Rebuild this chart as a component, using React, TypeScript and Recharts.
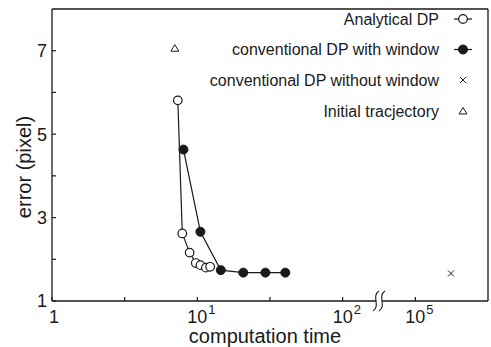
import { ScatterChart, Scatter, XAxis, YAxis, ReferenceLine, Legend, Label } from 'recharts';

// computation time (log axis with a break between 10^2 and 10^5) vs error in pixels
const analyticalTime = [7.34, 7.88, 8.85, 9.76, 10.5, 11.45, 12.25];
const analyticalError = [5.81, 2.62, 2.16, 1.91, 1.86, 1.8, 1.82];
const windowTime = [8.03, 10.5, 14.5, 20.7, 29.4, 40.3];
const windowError = [4.63, 2.66, 1.74, 1.68, 1.68, 1.68];
const noWindowTime = [176000];
const noWindowError = [1.66];
const initialTime = [7.0];
const initialError = [7.06];

const xMajorExponents = [0, 1, 2, 5];
const xMinorExponents = [0.5, 1.5];
const yTicks = [1, 2, 3, 4, 5, 6, 7];
const yLabelled = [1, 3, 5, 7];
const legendLabels = [
  'Analytical DP',
  'conventional DP with window',
  'conventional DP without window',
  'Initial tracjectory',
];

// everything above 10^3 is pulled left so 10^5 sits half a decade after 10^2
const BREAK_AT = 3;
const BREAK_SHIFT = 2.5;
const BREAK_POS = 2.25;
const toPos = (exp: number) => (exp > BREAK_AT ? exp - BREAK_SHIFT : exp);
const toPoints = (t: number[], e: number[]) =>
  t.map((v, i) => ({ x: toPos(Math.log10(v)), y: e[i] }));

const analytical = toPoints(analyticalTime, analyticalError);
const withWindow = toPoints(windowTime, windowError);
const withoutWindow = toPoints(noWindowTime, noWindowError);
const initial = toPoints(initialTime, initialError);

const xTicks = [...xMajorExponents, ...xMinorExponents].map(toPos).concat(BREAK_POS).sort((a, b) => a - b);

const FONT = "'Liberation Sans', Arial, Helvetica, sans-serif";
const INK = '#1a1a1a';

function XTick({ x, y, payload }: any) {
  const v = payload.value;
  if (Math.abs(v - BREAK_POS) < 1e-6) {
    const s = (dx: number) =>
      `M ${x + dx + 3} ${y - 10} C ${x + dx - 5} ${y - 5}, ${x + dx + 5} ${y + 5}, ${x + dx - 3} ${y + 10}`;
    return (
      <g>
        <rect x={x - 3} y={y - 2} width={6} height={4} fill="#fff" />
        <path d={s(-3)} fill="none" stroke={INK} strokeWidth={1.1} />
        <path d={s(3)} fill="none" stroke={INK} strokeWidth={1.1} />
      </g>
    );
  }
  const exp = xMajorExponents.find((e) => Math.abs(toPos(e) - v) < 1e-6);
  return (
    <g>
      <line x1={x} x2={x} y1={y} y2={y - 4} stroke={INK} strokeWidth={1.2} />
      {exp === 0 && (
        <text x={x + 2} y={y + 22} textAnchor="middle" fontSize={18} fontFamily={FONT} fill={INK}>1</text>
      )}
      {exp !== undefined && exp > 0 && (
        <g fontFamily={FONT} fill={INK}>
          <text x={x + 10} y={y + 22} textAnchor="end" fontSize={18}>10</text>
          <text x={x + 11} y={y + 13} textAnchor="start" fontSize={13}>{exp}</text>
        </g>
      )}
    </g>
  );
}

function YTick({ x, y, payload }: any) {
  const v = payload.value;
  return (
    <g>
      <line x1={x} x2={x + 4} y1={y} y2={y} stroke={INK} strokeWidth={1.2} />
      {yLabelled.includes(v) && (
        <text x={x - 5} y={y} dy="0.36em" textAnchor="end" fontSize={18} fontFamily={FONT} fill={INK}>{v}</text>
      )}
    </g>
  );
}

const openCircle = (p: any) => (
  <circle cx={p.cx} cy={p.cy} r={4.3} fill="#fff" stroke={INK} strokeWidth={1.2} />
);
const filledCircle = (p: any) => (
  <circle cx={p.cx} cy={p.cy} r={4.5} fill={INK} stroke={INK} strokeWidth={1} />
);
const cross = (p: any) => (
  <path d={`M ${p.cx - 3} ${p.cy - 3} L ${p.cx + 3} ${p.cy + 3} M ${p.cx - 3} ${p.cy + 3} L ${p.cx + 3} ${p.cy - 3}`} stroke={INK} strokeWidth={1} />
);
const triangle = (p: any) => (
  <path d={`M ${p.cx} ${p.cy - 3.5} L ${p.cx + 4} ${p.cy + 3} L ${p.cx - 4} ${p.cy + 3} Z`} fill="#fff" stroke={INK} strokeWidth={1} />
);

function LegendBox() {
  const rows = [19, 49.5, 80, 111];
  const mx = 273;
  return (
    <svg width={300} height={125} style={{ display: 'block' }}>
      {legendLabels.map((label, i) => {
        const cy = rows[i];
        return (
          <g key={label}>
            <text x={249} y={cy} dy="0.36em" textAnchor="end" fontSize={16} fontFamily={FONT} fill={INK}>{label}</text>
            {i < 2 && <line x1={mx - 9} x2={mx + 9} y1={cy} y2={cy} stroke={INK} strokeWidth={1.2} />}
            {i === 0 && openCircle({ cx: mx, cy })}
            {i === 1 && filledCircle({ cx: mx, cy })}
            {i === 2 && cross({ cx: mx, cy })}
            {i === 3 && triangle({ cx: mx, cy })}
          </g>
        );
      })}
    </svg>
  );
}

export default function App() {
  return (
    <div style={{ position: 'absolute', left: 0, top: 0, width: 491, height: 347, background: '#fff' }}>
      <ScatterChart width={491} height={347} margin={{ top: 9, right: 3, bottom: 0, left: 0 }}>
        <XAxis
          type="number"
          dataKey="x"
          domain={[0, 3]}
          ticks={xTicks}
          interval={0}
          tick={<XTick />}
          tickSize={0}
          tickMargin={0}
          tickLine={false}
          axisLine={{ stroke: INK, strokeWidth: 1.3 }}
          height={46}
          allowDataOverflow
        >
          <Label
            content={({ viewBox }: any) => (
              <text
                x={viewBox.x + viewBox.width / 2 - 5}
                y={viewBox.y + viewBox.height - 4}
                textAnchor="middle"
                fontSize={20}
                fontFamily={FONT}
                fill={INK}
              >
                computation time
              </text>
            )}
          />
        </XAxis>
        <YAxis
          type="number"
          dataKey="y"
          domain={[1, 8]}
          ticks={yTicks}
          interval={0}
          tick={<YTick />}
          tickSize={0}
          tickMargin={0}
          tickLine={false}
          axisLine={{ stroke: INK, strokeWidth: 1.3 }}
          width={52}
          allowDataOverflow
        >
          <Label
            content={({ viewBox }: any) => {
              const cx = 24;
              const cy = viewBox.y + viewBox.height / 2 + 12;
              return (
                <text
                  x={cx}
                  y={cy}
                  dy="0.36em"
                  transform={`rotate(-90 ${cx} ${cy})`}
                  textAnchor="middle"
                  fontSize={20}
                  fontFamily={FONT}
                  fill={INK}
                >
                  error (pixel)
                </text>
              );
            }}
          />
        </YAxis>
        <ReferenceLine y={8} stroke={INK} strokeWidth={1.3} />
        <ReferenceLine x={3} stroke={INK} strokeWidth={1.3} />
        <Legend
          layout="vertical"
          align="center"
          verticalAlign="middle"
          content={() => <LegendBox />}
          wrapperStyle={{ left: 190, top: 0, width: 300, height: 125 }}
        />
        <Scatter data={analytical} line={{ stroke: INK, strokeWidth: 1.2 }} shape={openCircle} isAnimationActive={false} />
        <Scatter data={withWindow} line={{ stroke: INK, strokeWidth: 1.2 }} shape={filledCircle} isAnimationActive={false} />
        <Scatter data={withoutWindow} shape={cross} isAnimationActive={false} />
        <Scatter data={initial} shape={triangle} isAnimationActive={false} />
      </ScatterChart>
    </div>
  );
}
